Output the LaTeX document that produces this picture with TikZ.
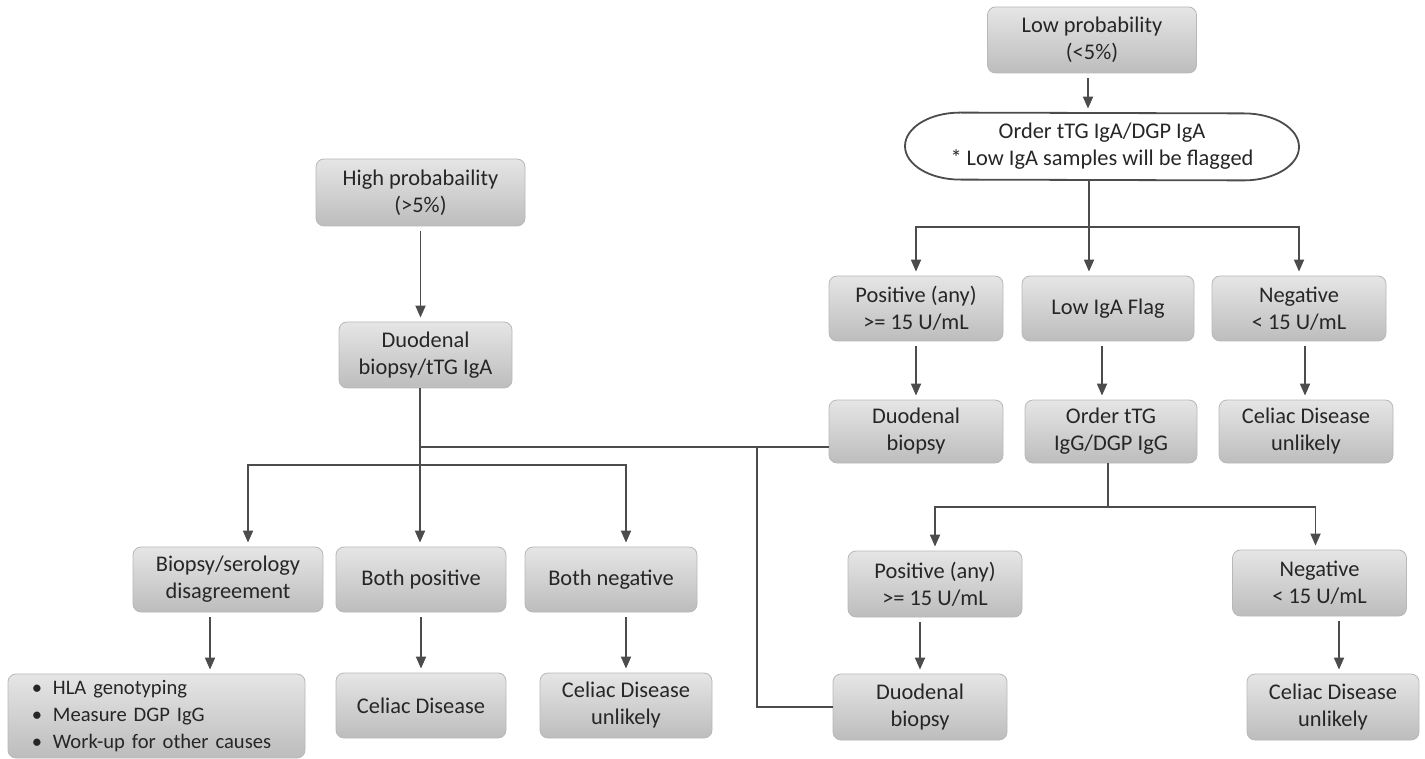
\documentclass[tikz,border=0pt]{standalone}
\usepackage{fontspec}
\setmainfont{Carlito}
\usetikzlibrary{arrows.meta}

\begin{document}
\begin{tikzpicture}[x=0.5pt, y=-0.5pt,
    box/.style={rounded corners=4pt, draw=black!28, top color=black!10, bottom color=black!26,
        text=black!85, align=center, inner sep=2pt, minimum width=87pt, minimum height=32.5pt,
        font=\fontsize{11.2}{13.5}\selectfont},
    line/.style={draw=black!70, line width=0.9pt},
    arr/.style={line, -{Triangle[width=5pt,length=6pt]}, shorten <=2.5pt, shorten >=2pt}]
    \useasboundingbox (0,0) rectangle (1425,759);

    % low probability branch
    \node[box, minimum width=104.5pt, minimum height=33pt] (low) at (1092,40) {Low probability\\(<5\%)};
    \node[align=center, text=black!85, minimum width=197pt, minimum height=33.5pt,
        font=\fontsize{11.2}{13.5}\selectfont] (ord) at (1102,146.5)
        {Order tTG IgA/DGP IgA\\* Low IgA samples will be flagged};
    \draw[line] ([xshift=-71pt]ord.north) arc[start angle=90, end angle=270, x radius=27.5pt, y radius=16.75pt]
        -- ([xshift=71pt]ord.south) arc[start angle=-90, end angle=90, x radius=27.5pt, y radius=16.75pt] -- cycle;

    \node[box] (posA) at (916,308.5) {Positive (any)\\>= 15 U/mL};
    \node[box, minimum width=86pt] (flag) at (1108,308.5) {Low IgA Flag};
    \node[box] (negA) at (1299,308.5) {Negative\\< 15 U/mL};
    \node[box, minimum height=31.5pt] (duoA) at (916,431.5) {Duodenal\\biopsy};
    \node[box, minimum width=86pt, minimum height=31.5pt] (ordG) at (1111,431.5) {Order tTG\\IgG/DGP IgG};
    \node[box, minimum height=31.5pt] (unlA) at (1306,431.5) {Celiac Disease\\unlikely};
    \node[box, minimum height=33pt] (posG) at (935,584) {Positive (any)\\>= 15 U/mL};
    \node[box, minimum height=33pt] (negG) at (1319.5,583) {Negative\\< 15 U/mL};
    \node[box, minimum height=33pt] (duoG) at (920,707) {Duodenal\\biopsy};
    \node[box, minimum width=86pt, minimum height=33pt] (unlG) at (1333,707) {Celiac Disease\\unlikely};

    % high probability branch
    \node[box, minimum width=104.5pt, minimum height=33.5pt] (high) at (420.5,192.5) {High probabaility\\(>5\%)};
    \node[box, minimum width=86.5pt, minimum height=33pt] (duoT) at (425.5,355) {Duodenal\\biopsy/tTG IgA};
    \node[box, minimum width=95pt] (bio) at (228,579.5) {Biopsy/serology\\disagreement};
    \node[box, minimum width=85pt] (bpos) at (421,579.5) {Both positive};
    \node[box, minimum width=86pt] (bneg) at (611,579.5) {Both negative};
    \node[box, minimum width=148.5pt, minimum height=42pt, align=left, text width=124.5pt,
        inner xsep=12pt, font=\fontsize{10.3}{13.5}\selectfont] (list) at (156.5,716)
        {\makebox[10.5pt][l]{\textbullet}HLA genotyping\\
         \makebox[10.5pt][l]{\textbullet}Measure DGP IgG\\
         \makebox[10.5pt][l]{\textbullet}Work-up for other causes};
    \node[box, minimum width=85pt] (cel) at (421,705.5) {Celiac Disease};
    \node[box, minimum width=86pt] (unlL) at (626,705.5) {Celiac Disease\\unlikely};

    \coordinate (ordsplit) at (1089,227);
    \coordinate (gsplit) at (1108,507);
    \coordinate (tsplit) at (420,465);
    \coordinate (tjoin) at (420,447);
    \coordinate (vjoin) at (757,447);

    % connectors, right
    \draw[arr] ([xshift=-2pt]low.south) -- ([xshift=-2pt]low.south |- ord.north);
    \draw[line] (ordsplit |- ord.south) -- (ordsplit);
    \draw[arr, shorten <=0pt] (ordsplit) -| (posA.north);
    \draw[arr, shorten <=0pt] (ordsplit) -- (ordsplit |- flag.north);
    \draw[arr, shorten <=0pt] (ordsplit) -| (negA.north);
    \draw[arr] (posA) -- (duoA);
    \draw[arr] ([xshift=-3pt]flag.south) -- ([xshift=-3pt]flag.south |- ordG.north);
    \draw[arr] ([xshift=3pt]negA.south) -- ([xshift=3pt]negA.south |- unlA.north);
    \draw[line] (gsplit |- ordG.south) -- (gsplit);
    \draw[arr, shorten <=0pt] (gsplit) -| (posG.north);
    \draw[arr, shorten <=0pt] (gsplit) -| ([xshift=-2pt]negG.north);
    \draw[arr] (posG.south -| duoG.north) -- (duoG.north);
    \draw[arr] ([xshift=3pt]unlG.north |- negG.south) -- ([xshift=3pt]unlG.north);

    % connectors, left
    \draw[arr] (high.south) -- (high.south |- duoT.north);
    \draw[line] (duoT.south -| tsplit) -- (tsplit);
    \draw[line] (tjoin) -- (tjoin -| duoA.west);
    \draw[line] (vjoin) |- (duoG.west);
    \draw[arr, shorten <=0pt] (tsplit) -| ([xshift=10pt]bio.north);
    \draw[arr, shorten <=0pt] (tsplit) -- (tsplit |- bpos.north);
    \draw[arr, shorten <=0pt] (tsplit) -| ([xshift=7.5pt]bneg.north);
    \draw[arr] ([xshift=-9pt]bio.south) -- ([xshift=-9pt]bio.south |- list.north);
    \draw[arr] (bpos) -- (cel);
    \draw[arr] (unlL.north |- bneg.south) -- (unlL.north);
\end{tikzpicture}
\end{document}
